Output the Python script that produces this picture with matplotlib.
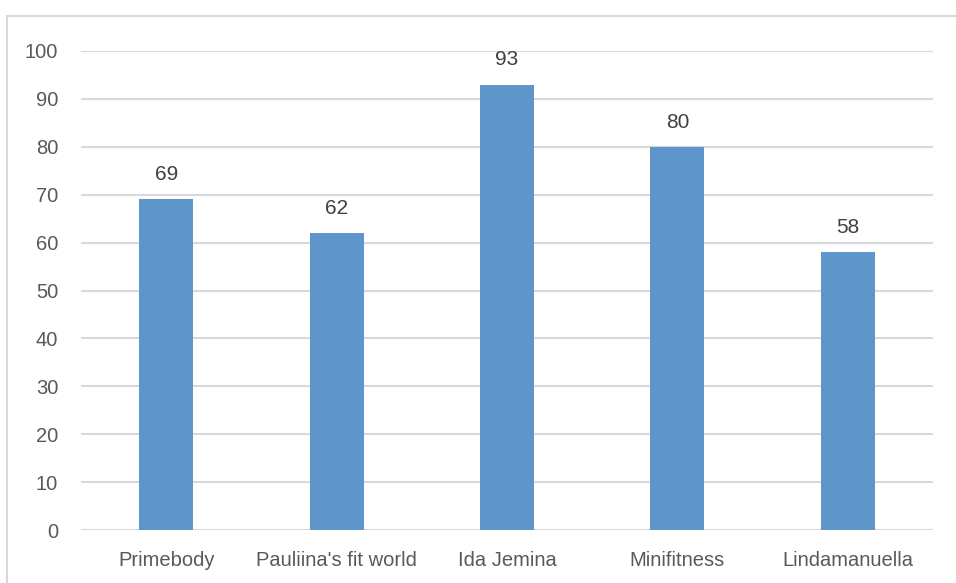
import matplotlib.pyplot as plt
from matplotlib.patches import Rectangle

plt.rcParams['font.family'] = ['Liberation Sans', 'DejaVu Sans']
plt.rcParams['font.size'] = 14.5

channels = ['Primebody', "Pauliina's fit world", 'Ida Jemina', 'Minifitness', 'Lindamanuella']
scores = [69, 62, 93, 80, 58]
y_ticks = [0, 10, 20, 30, 40, 50, 60, 70, 80, 90, 100]

W, H = 956, 583
fig = plt.figure(figsize=(W / 100, H / 100), dpi=100)
ax = fig.add_axes([81 / W, 1 - 530 / H, (933 - 81) / W, (530 - 51) / H])

# outer chart frame (only left and top edges visible in the original)
fig.patches.append(Rectangle((7 / W, -0.1), 1.2, 1 - 16 / H + 0.1, transform=fig.transFigure,
                             fill=False, edgecolor='#d9d9d9', linewidth=1.5))

x = list(range(len(channels)))
bars = ax.bar(x, scores, width=0.317, color='#5e95ca', zorder=3)
for b, v in zip(bars, scores):
    ax.annotate(str(v), (b.get_x() + b.get_width() / 2, v), xytext=(0, 11),
                textcoords='offset points', ha='center', va='bottom',
                color='#404040', fontsize=15)

ax.set_xlim(-0.5, len(channels) - 0.5)
ax.set_ylim(0, 100)
ax.set_yticks(y_ticks)
ax.set_xticks(x)
ax.set_xticklabels(channels)
ax.grid(axis='y', color='#d9d9d9', linewidth=1.5, zorder=0)
ax.tick_params(axis='both', length=0, colors='#595959', labelsize=14.5)
ax.tick_params(axis='y', pad=16.5)
ax.tick_params(axis='x', pad=15)
for s in ax.spines.values():
    s.set_visible(False)

fig.savefig('out.png', dpi=100)
